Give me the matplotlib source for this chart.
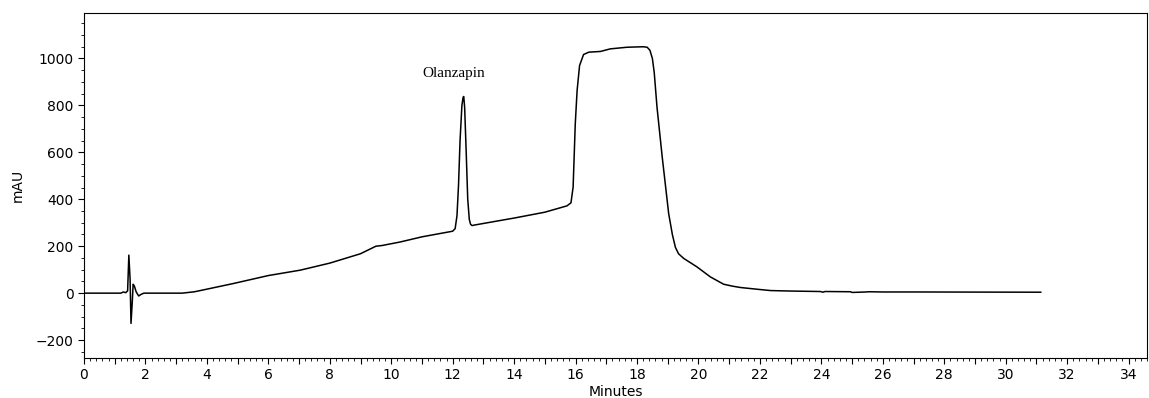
import numpy as np
import matplotlib.pyplot as plt
from matplotlib.ticker import MultipleLocator, FuncFormatter

# chromatogram trace (minutes, mAU)
t = [0.0, 1.2, 1.28, 1.36, 1.42, 1.46, 1.50, 1.53, 1.57, 1.60, 1.64, 1.70, 1.78, 1.86, 1.95,
     3.2, 3.6, 4.0, 4.86, 6.0, 7.04, 8.0, 9.0, 9.5, 9.7, 10.29, 11.0, 11.5, 12.0, 12.08, 12.14,
     12.19, 12.24, 12.30, 12.34, 12.36, 12.39, 12.44, 12.49, 12.54, 12.58, 12.63, 12.7, 13.0,
     14.0, 15.0, 15.72, 15.85, 15.92, 15.99, 16.05, 16.13, 16.26, 16.43, 16.81, 17.13,
     17.68, 18.2, 18.33, 18.42, 18.5, 18.56, 18.65, 18.82, 19.03, 19.15, 19.25, 19.35, 19.52, 19.95,
     20.39, 20.82, 21.1, 21.37, 21.96, 22.35, 23.0, 23.97, 24.05, 24.12, 24.95, 25.0, 25.45,
     25.55, 26.0, 27.2, 29.0, 31.14]
mau = [0, 0, 5, 2, 10, 162, 60, -129, -40, 38, 30, 5, -12, -5, 0,
       0, 6, 17, 41, 75, 98, 128, 168, 200, 203, 218, 240, 252, 264, 275, 330,
       460, 650, 800, 835, 838, 790, 600, 400, 315, 294, 288, 290, 297,
       320, 345, 372, 385, 452, 722, 864, 970, 1017, 1027, 1030, 1041,
       1048, 1050, 1048, 1035, 1000, 940, 793, 580, 339, 250, 195, 168, 148, 112,
       69, 38, 30, 24, 16, 11, 9, 7, 4, 7, 6, 3, 5,
       6, 5, 5, 4.5, 4]

peak_name = "Olanzapin"
peak_label_x = 12.02
peak_label_y = 935

fig = plt.figure(figsize=(11.49, 3.98), dpi=100)
ax = fig.add_axes([0.0731, 0.1013, 0.9252, 0.8667])

ax.plot(t, mau, color="black", lw=1.1)
ax.text(peak_label_x, peak_label_y, peak_name, family="Liberation Serif",
        fontsize=11, ha="center", va="center")

ax.set_xlim(0, 34.6)
ax.set_ylim(-275, 1195)
ax.xaxis.set_major_locator(MultipleLocator(1))
ax.xaxis.set_major_formatter(FuncFormatter(lambda v, p: "%d" % v if int(round(v)) % 2 == 0 else ""))
ax.xaxis.set_minor_locator(MultipleLocator(0.2))
ax.yaxis.set_major_locator(MultipleLocator(200))
ax.yaxis.set_minor_locator(MultipleLocator(50))
ax.tick_params(which="major", length=4, labelsize=10, direction="out")
ax.tick_params(which="minor", length=2, direction="out")
ax.set_xlabel("Minutes", fontsize=10, labelpad=2)
ax.set_ylabel("mAU", fontsize=10, labelpad=8)

fig.savefig("out.png", dpi=100)
